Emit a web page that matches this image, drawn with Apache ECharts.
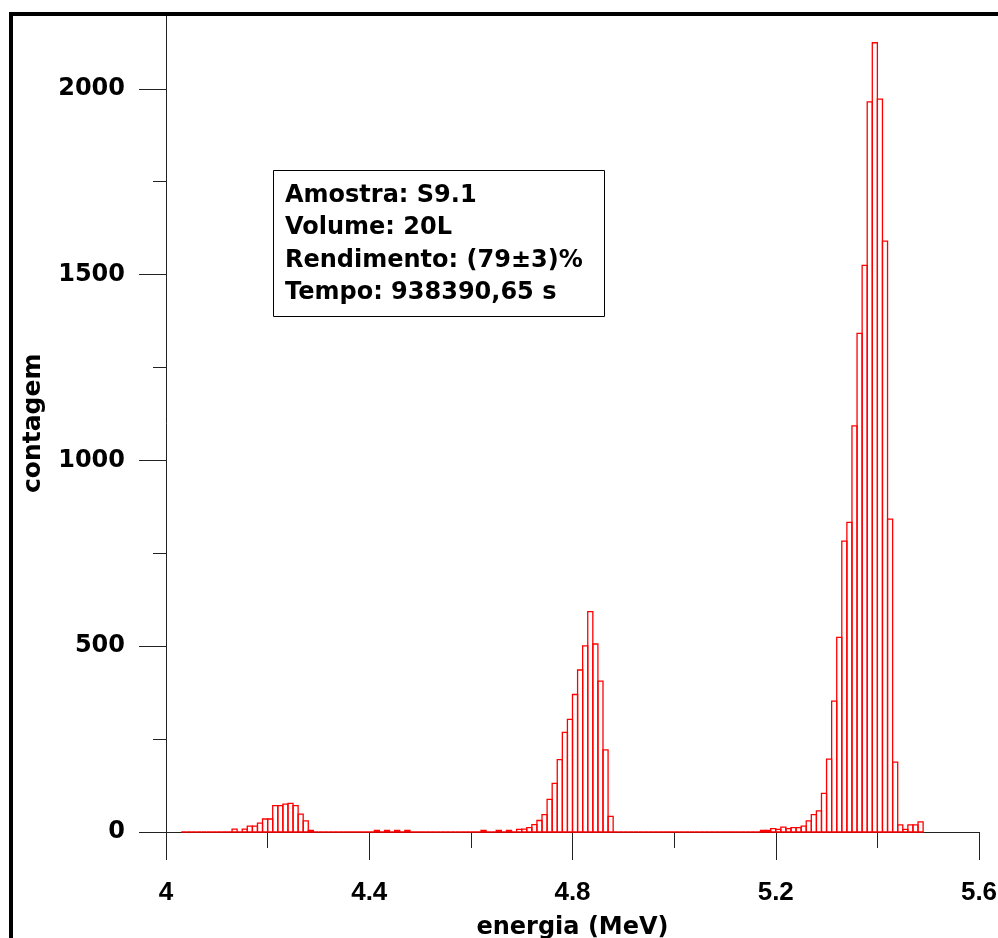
<!DOCTYPE html>
<html>
<head>
<meta charset="utf-8">
<script src="https://cdn.jsdelivr.net/npm/echarts@6/dist/echarts.min.js"></script>
<style>
html,body{margin:0;padding:0;background:#fff;}
#chart{width:998px;height:938px;}
</style>
</head>
<body>
<div id="chart"></div>
<script>
// Histogram definition: bins of 0.01 MeV starting at 4.03 MeV
var binStart = 4.03;
var binWidth = 0.01;
// counts per bin (4.03 ... 5.48)
var counts = [
  // 4.03 - 4.12
  0,0,0,0,0,0,0,0,0,0,
  // 4.13 - 4.28
  8,0,8,16,16,24,35,35,71,71,75,77,71,48,30,4,
  // 4.29 - 4.40
  0,0,0,0,0,0,0,0,0,0,0,0,
  // 4.41 - 4.47
  4,0,4,0,4,0,4,
  // 4.48 - 4.61
  0,0,0,0,0,0,0,0,0,0,0,0,0,0,
  // 4.62 - 4.68
  4,0,0,4,0,4,0,
  // 4.69 - 4.87
  7,8,12,20,31,47,88,131,195,268,303,370,436,501,593,506,406,221,42,
  // 4.88 - 5.16
  0,0,0,0,0,0,0,0,0,0,0,0,0,0,0,0,0,0,0,0,0,0,0,0,0,0,0,0,0,
  // 5.17 - 5.48
  4,4,9,7,13,9,12,12,16,30,47,57,104,196,352,524,783,833,1093,1342,1525,1965,2124,1972,1590,842,188,19,7,19,19,27
];
var xTickLabels = ['4', '4.4', '4.8', '5.2', '5.6'];
var yMajorTicks = [0, 500, 1000, 1500, 2000];
var yMinorTicks = [250, 750, 1250, 1750];
var infoLines = ['Amostra: S9.1', 'Volume: 20L', 'Rendimento: (79\u00b13)%', 'Tempo: 938390,65 s'];

var histData = counts.map(function (c, i) {
  var s = +(binStart + i * binWidth).toFixed(2);
  return [s, +(s + binWidth).toFixed(2), c];
});

var FONT = 'DejaVu Sans';
var FONT2 = 'Liberation Sans';
var axisColor = '#222';

var chart = echarts.init(document.getElementById('chart'), null, {renderer: 'canvas'});

var option = {
  animation: false,
  backgroundColor: '#fff',
  grid: {left: 166, right: 19, top: 14.5, bottom: 106, containLabel: false, outerBoundsMode: 'none'},
  xAxis: {
    type: 'value', min: 4, max: 5.6, interval: 0.4,
    name: 'energia (MeV)', nameLocation: 'middle', nameGap: 84,
    nameTextStyle: {fontFamily: FONT, fontWeight: 'bold', fontSize: 24, color: '#000'},
    axisLine: {show: true, onZero: false, lineStyle: {color: axisColor, width: 1}},
    axisTick: {show: true, length: 28, lineStyle: {color: axisColor, width: 1}},
    minorTick: {show: true, splitNumber: 2, length: 16, lineStyle: {color: axisColor, width: 1}},
    axisLabel: {show: true, margin: 48, fontFamily: FONT2, fontWeight: 'bold', fontSize: 26, color: '#000',
      formatter: function (v) {
        var s = String(+v.toFixed(1));
        return xTickLabels.indexOf(s) >= 0 ? s : '';
      }},
    splitLine: {show: false},
    minorSplitLine: {show: false}
  },
  yAxis: [
    {
      type: 'value', min: 0, max: 2200,
      name: 'contagem', nameLocation: 'middle', nameGap: 120,
      nameTextStyle: {fontFamily: FONT, fontWeight: 'bold', fontSize: 25, color: '#000'},
      axisLine: {show: true, onZero: false, lineStyle: {color: axisColor, width: 1}},
      axisTick: {show: true, length: 27, customValues: yMajorTicks, lineStyle: {color: axisColor, width: 1}},
      axisLabel: {show: true, customValues: yMajorTicks, margin: 41, fontFamily: FONT, fontWeight: 'bold', fontSize: 24, color: '#000',
        formatter: function (v) { return String(v); }},
      splitLine: {show: false}
    },
    {
      type: 'value', min: 0, max: 2200, position: 'left',
      axisLine: {show: false},
      axisTick: {show: true, length: 13, customValues: yMinorTicks, lineStyle: {color: axisColor, width: 1}},
      axisLabel: {show: false},
      splitLine: {show: false}
    }
  ],
  series: [{
    type: 'custom',
    xAxisIndex: 0, yAxisIndex: 0,
    data: histData,
    encode: {x: [0, 1], y: 2},
    renderItem: function (params, api) {
      var p0 = api.coord([api.value(0), 0]);
      var p1 = api.coord([api.value(1), api.value(2)]);
      return {
        type: 'polygon',
        shape: {points: [[p0[0], p0[1]], [p0[0], p1[1]], [p1[0], p1[1]], [p1[0], p0[1]]]},
        style: {fill: null, stroke: '#ff0000', lineWidth: 1.3}
      };
    },
    z: 5
  }],
  graphic: [
    {type: 'rect', left: 9, top: 12, shape: {width: 989, height: 4}, style: {fill: '#000'}, z: 100},
    {type: 'rect', left: 9, top: 12, shape: {width: 4, height: 926}, style: {fill: '#000'}, z: 100},
    {type: 'rect', shape: {x: 273.5, y: 170.5, width: 331, height: 146}, style: {fill: '#fff', stroke: '#000', lineWidth: 1}, z: 50},
    {type: 'text', x: 285, y: 196, style: {text: infoLines[0], fontFamily: FONT, fontWeight: 'bold', fontSize: 24, fill: '#000', verticalAlign: 'middle'}, z: 51},
    {type: 'text', x: 285, y: 228, style: {text: infoLines[1], fontFamily: FONT, fontWeight: 'bold', fontSize: 24, fill: '#000', verticalAlign: 'middle'}, z: 51},
    {type: 'text', x: 285, y: 261, style: {text: infoLines[2], fontFamily: FONT, fontWeight: 'bold', fontSize: 24, fill: '#000', verticalAlign: 'middle'}, z: 51},
    {type: 'text', x: 285, y: 293, style: {text: infoLines[3], fontFamily: FONT, fontWeight: 'bold', fontSize: 24, fill: '#000', verticalAlign: 'middle'}, z: 51}
  ]
};
chart.setOption(option);
</script>
</body>
</html>
